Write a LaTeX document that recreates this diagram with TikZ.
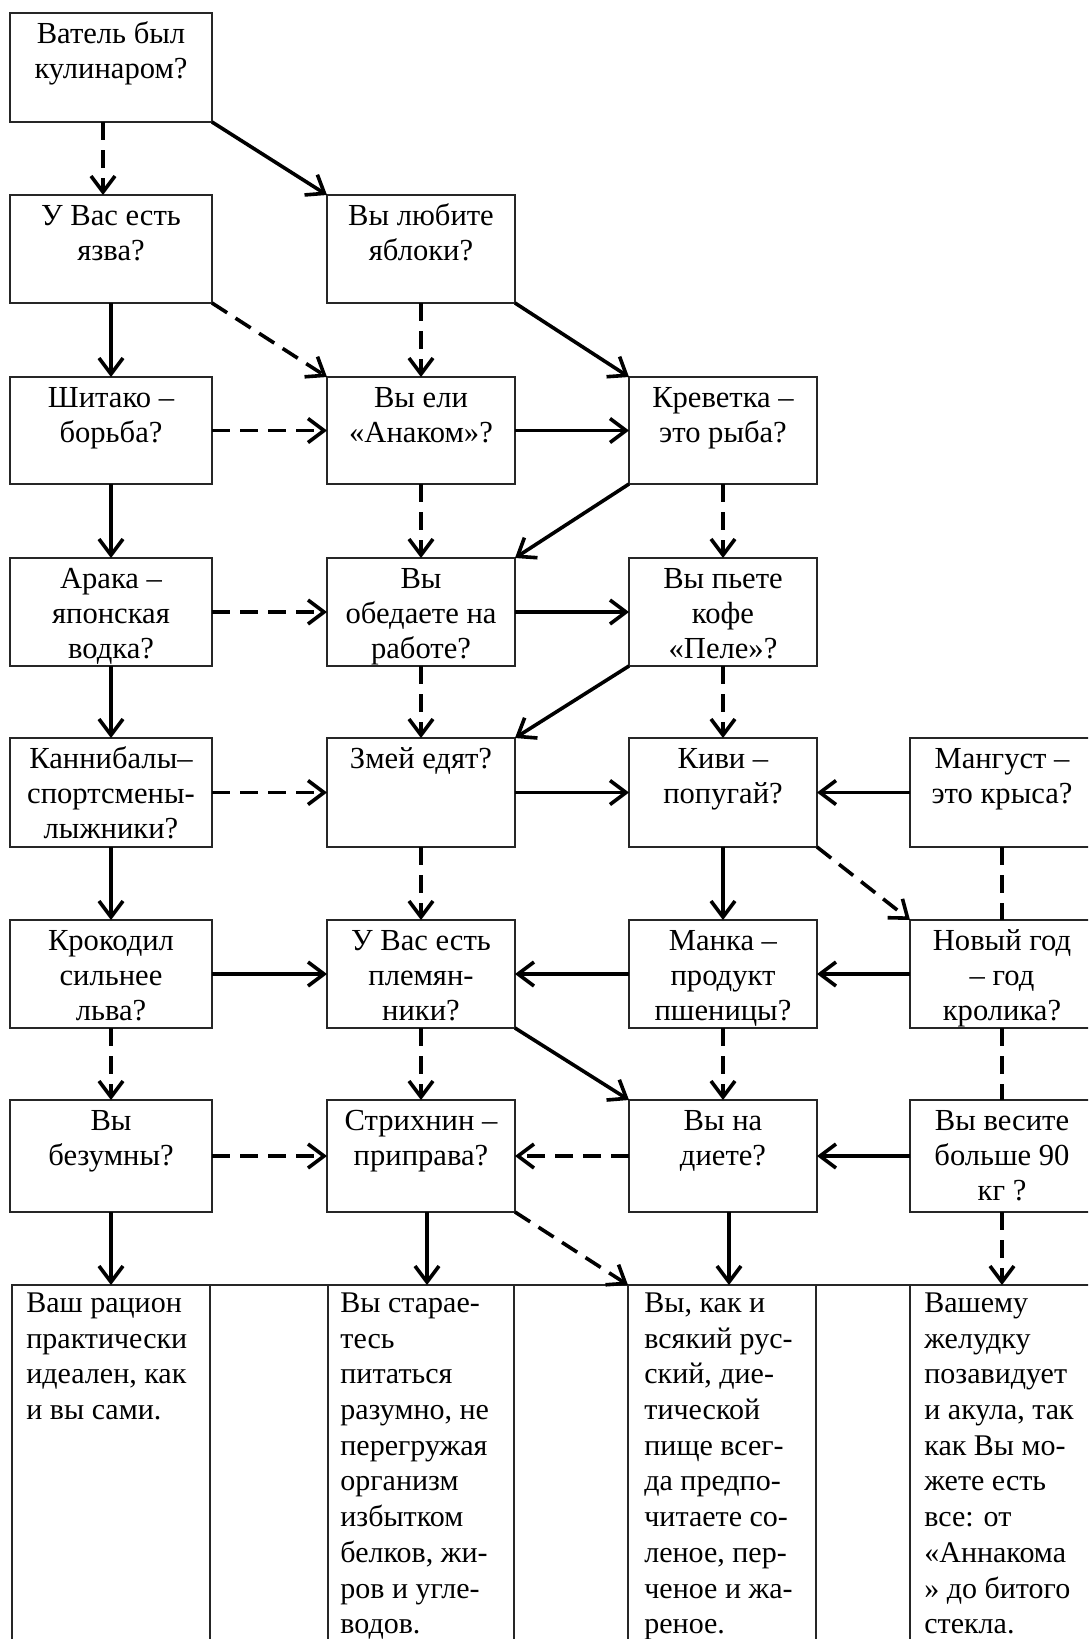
\documentclass[tikz,border=0pt]{standalone}
\usepackage{fontspec}
\setmainfont{Liberation Serif}
\usetikzlibrary{arrows.meta}
\newcommand\qbox[6]{%
  \node[qbox, minimum width={(#4-#2)*0.5pt}, minimum height={(#5-#3)*0.5pt}] (#1) at ({(#2+#4)/2},{(#3+#5)/2}) {};
  \node[qtext] (#1t) at ([yshift=-2.75pt]#1.north) {\strut #6};
}
\newcommand\rcell[3]{%
  \node[qbox, minimum width={(#3-#2)*0.5pt}, minimum height={(1680-1285)*0.5pt}] (#1) at ({(#2+#3)/2},{(1285+1680)/2}) {};
}
\begin{document}
\begin{tikzpicture}[x=0.5pt,y=-0.5pt,
  qbox/.style={draw=black!85,line width=0.6pt,rectangle,inner sep=0pt,outer sep=0pt},
  qtext/.style={anchor=north,inner sep=0pt,align=center,font=\fontsize{15.3pt}{17.6pt}\selectfont},
  atext/.style={anchor=north west,inner sep=0pt,align=left,font=\fontsize{15pt}{17.85pt}\selectfont},
  solidarr/.style={line width=1.8pt,-{Straight Barb[length=8pt,width=12pt]}},
  dasharr/.style={line width=1.8pt,dash pattern=on 9pt off 5pt,-{Straight Barb[length=8pt,width=12pt]}},
  dashline/.style={line width=1.8pt,dash pattern=on 9pt off 5pt},
]
\useasboundingbox (0,0) rectangle (1088,1639);
\fill[white] (0,0) rectangle (1088,1639);
\clip (0,0) rectangle (1088,1639);

% questions
\qbox{r0a}{10}{13}{212}{122}{Ватель был\\кулинаром?}
\qbox{r1a}{10}{195}{212}{303}{У Вас есть\\язва?}
\qbox{r1b}{327}{195}{515}{303}{Вы любите\\яблоки?}
\qbox{r2a}{10}{377}{212}{484}{Шитако –\\борьба?}
\qbox{r2b}{327}{377}{515}{484}{Вы ели\\«Анаком»?}
\qbox{r2c}{629}{377}{817}{484}{Креветка –\\это рыба?}
\qbox{r3a}{10}{558}{212}{666}{Арака –\\японская\\водка?}
\qbox{r3b}{327}{558}{515}{666}{Вы\\обедаете на\\работе?}
\qbox{r3c}{629}{558}{817}{666}{Вы пьете\\кофе\\«Пеле»?}
\qbox{r4a}{10}{738}{212}{847}{Каннибалы–\\спортсмены-\\лыжники?}
\qbox{r4b}{327}{738}{515}{847}{Змей едят?}
\qbox{r4c}{629}{738}{817}{847}{Киви –\\попугай?}
\qbox{r4d}{910}{738}{1094}{847}{Мангуст –\\это крыса?}
\qbox{r5a}{10}{920}{212}{1028}{Крокодил\\сильнее\\льва?}
\qbox{r5b}{327}{920}{515}{1028}{У Вас есть\\племян-\\ники?}
\qbox{r5c}{629}{920}{817}{1028}{Манка –\\продукт\\пшеницы?}
\qbox{r5d}{910}{920}{1094}{1028}{Новый год\\– год\\кролика?}
\qbox{r6a}{10}{1100}{212}{1212}{Вы\\безумны?}
\qbox{r6b}{327}{1100}{515}{1212}{Стрихнин –\\приправа?}
\qbox{r6c}{629}{1100}{817}{1212}{Вы на\\диете?}
\qbox{r6d}{910}{1100}{1094}{1212}{Вы весите\\больше 90\\кг ?}

% answer table
\rcell{r7a}{12}{210}
\rcell{g1}{210}{328}
\rcell{r7b}{328}{514}
\rcell{g2}{514}{628}
\rcell{r7c}{628}{816}
\rcell{g3}{816}{910}
\rcell{r7d}{910}{1096}
\node[atext] (r7at) at ([xshift=7pt,yshift=-1pt]r7a.north west) {\strut Ваш рацион\\практически\\идеален, как\\и вы сами.};
\node[atext] (r7bt) at ([xshift=6pt,yshift=-1pt]r7b.north west) {\strut Вы старае-\\тесь\\питаться\\разумно, не\\перегружая\\организм\\избытком\\белков, жи-\\ров и угле-\\водов.};
\node[atext] (r7ct) at ([xshift=8pt,yshift=-1pt]r7c.north west) {\strut Вы, как и\\всякий рус-\\ский, дие-\\тической\\пище всег-\\да предпо-\\читаете со-\\леное, пер-\\ченое и жа-\\реное.};
\node[atext] (r7dt) at ([xshift=7pt,yshift=-1pt]r7d.north west) {\strut Вашему\\желудку\\позавидует\\и акула, так\\как Вы мо-\\жете есть\\все: от\\«Аннакома\\» до битого\\стекла.};

% connectors
\draw[dasharr] ([xshift=-4pt]r0a.south) -- ([xshift=-4pt]r1a.north);
\draw[solidarr] (r0a.south east) -- (r1b.north west);
\draw[solidarr] (r1a) -- (r2a);
\draw[dasharr] (r1a.south east) -- (r2b.north west);
\draw[dasharr] (r1b) -- (r2b);
\draw[solidarr] (r1b.south east) -- (r2c.north west);
\draw[dasharr] (r2a) -- (r2b);
\draw[solidarr] (r2b) -- (r2c);
\draw[solidarr] (r2a) -- (r3a);
\draw[dasharr] (r2b) -- (r3b);
\draw[solidarr] (r2c.south west) -- (r3b.north east);
\draw[dasharr] (r2c) -- (r3c);
\draw[dasharr] (r3a) -- (r3b);
\draw[solidarr] (r3b) -- (r3c);
\draw[solidarr] (r3a) -- (r4a);
\draw[dasharr] (r3b) -- (r4b);
\draw[solidarr] (r3c.south west) -- (r4b.north east);
\draw[dasharr] (r3c) -- (r4c);
\draw[dasharr] (r4a) -- (r4b);
\draw[solidarr] (r4b) -- (r4c);
\draw[solidarr] (r4d) -- (r4c);
\draw[solidarr] (r4a) -- (r5a);
\draw[dasharr] (r4b) -- (r5b);
\draw[solidarr] (r4c) -- (r5c);
\draw[dasharr] (r4c.south east) -- (r5d.north west);
\draw[dashline] (r4d) -- (r5d);
\draw[solidarr] (r5a) -- (r5b);
\draw[solidarr] (r5c) -- (r5b);
\draw[solidarr] (r5d) -- (r5c);
\draw[dasharr] (r5a) -- (r6a);
\draw[dasharr] (r5b) -- (r6b);
\draw[solidarr] (r5b.south east) -- (r6c.north west);
\draw[dasharr] (r5c) -- (r6c);
\draw[dashline] (r5d) -- (r6d);
\draw[dasharr] (r6a) -- (r6b);
\draw[dasharr] (r6c) -- (r6b);
\draw[solidarr] (r6d) -- (r6c);
\draw[solidarr] (r6a.south) -- (r6a.south |- r7a.north);
\draw[solidarr] ([xshift=3pt]r6b.south) -- ([xshift=3pt]r6b.south |- r7b.north);
\draw[dasharr] (r6b.south east) -- (r7c.north west);
\draw[solidarr] ([xshift=3pt]r6c.south) -- ([xshift=3pt]r6c.south |- r7c.north);
\draw[dasharr] (r6d.south) -- (r6d.south |- r7d.north);
\end{tikzpicture}
\end{document}
